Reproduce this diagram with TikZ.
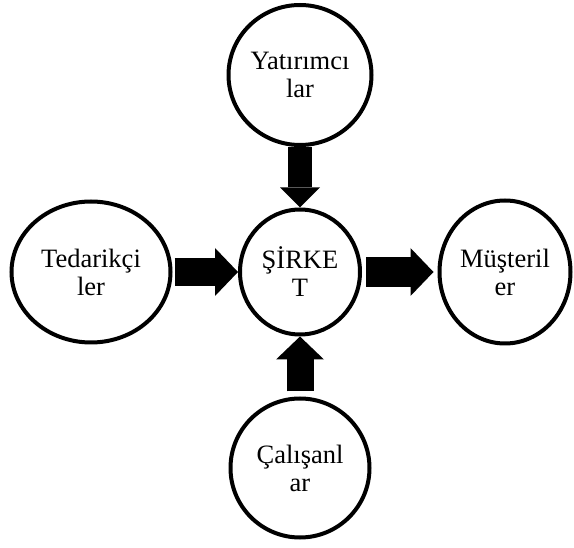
\documentclass[tikz,border=0pt]{standalone}
\usepackage{fontspec}
\setmainfont{Liberation Serif}
\usetikzlibrary{shapes.geometric,arrows.meta}
\begin{document}
\begin{tikzpicture}[x=1pt,y=-1pt,
  party/.style={ellipse,draw,line width=4pt,inner sep=0pt,align=center,
    font=\fontsize{26.5}{28}\selectfont},
  fatarrow/.style={line width=28pt,-{Triangle[length=23pt,width=48pt,line width=0pt]}}]
  \useasboundingbox (0,0) rectangle (574,548);
  % company in the middle, the four parties around it
  \node[party,minimum width=120pt,minimum height=125pt] (sirket) at (300,272) {ŞİRKE\\T};
  \node[party,minimum width=143pt,minimum height=140pt] (yatirimci) at (300,75) {Yatırımcı\\lar};
  \node[party,minimum width=159pt,minimum height=141pt] (tedarikci) at (91,272) {Tedarikçi\\ler};
  \node[party,minimum width=131pt,minimum height=143pt] (musteri) at (505,272) {Müşteril\\er};
  \node[party,minimum width=139pt,minimum height=139pt] (calisan) at (300,468) {Çalışanl\\ar};
  % block arrows
  \draw[fatarrow,line width=24pt,-{Triangle[length=20pt,width=40pt,line width=0pt]}] (yatirimci) -- (sirket);
  \draw[fatarrow,shorten <=2pt] (tedarikci) -- (sirket);
  \draw[fatarrow,line width=30pt,shorten <=4pt,shorten >=4pt] (sirket) -- (musteri);
  \draw[fatarrow,line width=27pt,shorten <=5pt] (calisan) -- (sirket);
\end{tikzpicture}
\end{document}
